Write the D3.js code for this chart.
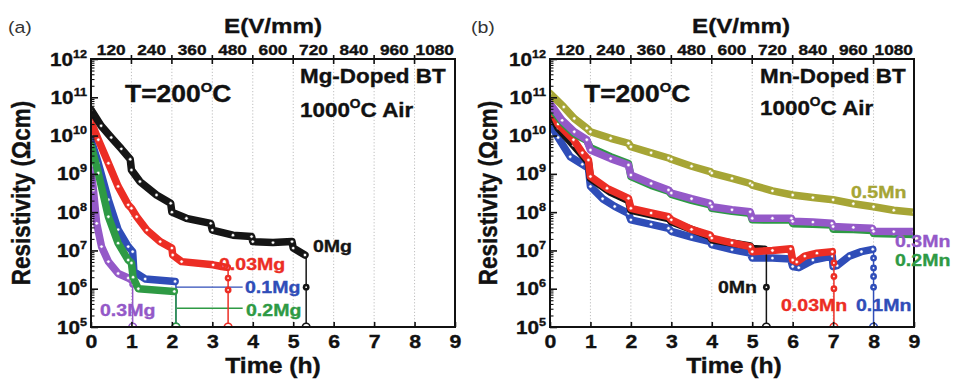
<!DOCTYPE html>
<html><head><meta charset="utf-8">
<script src="https://cdn.jsdelivr.net/npm/d3@7"></script>
<style>body{margin:0;background:#fff}svg{display:block}</style>
</head><body>
<svg id="c" width="954" height="381"></svg>
<script>
// ---------- tick labels / categories ----------
const hourTicks = [0,1,2,3,4,5,6,7,8,9];
const gridHours = [1,2,3,4,5,6,7,8];
const fieldTicks = [120,240,360,480,600,720,840,960,1080];
const decadeExps = [5,6,7,8,9,10,11,12];

// ---------- (a) Mg-doped BT : time (h) / resistivity (Ωcm) ----------
const mg0T  = [0,0.25,0.5,0.75,0.97,1.0,1.21,1.62,1.97,2.0,2.36,2.96,3.0,3.51,3.97,4.0,4.5,4.97,5.0,5.29];
const mg0V  = [4.7e10,1.8e10,8.9e9,4.5e9,2.4e9,1.26e9,6.3e8,2.8e8,1.7e8,1.0e8,6.9e7,5.1e7,3.4e7,2.5e7,2.3e7,1.7e7,1.6e7,1.7e7,1.15e7,7.6e6];
const mg003T = [0,0.18,0.43,0.67,0.92,1.0,1.13,1.38,1.71,2.0,2.02,2.24,3.02,3.23,3.37];
const mg003V = [2.3e10,7.8e9,1.9e9,4.7e8,1.55e8,1.26e8,7.6e7,3.4e7,1.7e7,1.15e7,7.6e6,5.1e6,4.2e6,3.8e6,3.6e6];
const mg01T = [0,0.18,0.43,0.67,0.92,1.03,1.06,1.34,2.08];
const mg01V = [7.8e9,1.9e9,2.1e8,3.5e7,1.26e7,9.3e6,2.8e6,1.8e6,1.55e6];
const mg02T = [0,0.18,0.43,0.67,0.92,1.0,1.04,1.17,2.06];
const mg02V = [5.6e9,1.05e9,7.6e7,1.55e7,5.6e6,4.7e6,2.0e6,1.0e6,8.5e5];
const mg03T = [0,0.06,0.14,0.26,0.43,0.67,0.92,1.0];
const mg03V = [1.26e9,3.8e8,5.1e7,1.26e7,5.1e6,2.5e6,1.9e6,1.7e6];
// breakdown (time, marker values along the drop)
const mgDropT = [5.32, 3.39, 2.1, 2.1, 1.03];
const mgDropV = [[1.1e6,1e5],[1.9e6,9.3e5,1e5],[1e5],[1e5],[1.3e6,1e5]];
const mgNames = ["0Mg","0.03Mg","0.1Mg","0.2Mg","0.3Mg"];
// leader lines for 0.1Mg / 0.2Mg labels [t0, t1, value]
const mgLeaders = [[2.1,3.75,1.1e6],[2.12,3.75,3.1e5]];

// ---------- (b) Mn-doped BT ----------
const mn0T  = [0,0.2,0.58,0.95,1.0,1.5,1.94,2.0,2.93,3.0,3.96,4.0,4.95,5.0,5.3];
const mn0V  = [3.98e10,1.58e10,5.6e9,2.0e9,7.6e8,3.3e8,2.0e8,1.12e8,6.8e7,5.6e7,2.3e7,1.9e7,1.3e7,1.12e7,1.07e7];
const mn003T = [0,0.2,0.58,0.8,0.95,1.0,1.41,1.94,2.0,2.5,2.93,3.0,3.5,3.96,4.0,4.5,4.95,5.0,5.5,5.95,6.0,6.1,6.3,6.6,6.98];
const mn003V = [5.6e10,2.0e10,7.8e9,3.55e9,2.3e9,8.5e8,4.2e8,2.3e8,1.26e8,9.5e7,7.6e7,6.3e7,3.55e7,2.5e7,2.1e7,1.58e7,1.26e7,9.3e6,1.0e7,1.1e7,5.6e6,5.0e6,7.1e6,8.5e6,9.3e6];
const mn01T = [0,0.2,0.5,0.8,0.95,1.0,1.3,1.6,1.94,2.0,2.5,2.93,3.0,3.5,3.96,4.0,4.5,4.95,5.0,5.5,5.95,6.0,6.15,6.5,6.98,7.0,7.1,7.4,7.7,7.98];
const mn01V = [2.1e10,8.9e9,2.8e9,1.78e9,1.41e9,4.7e8,2.24e8,1.41e8,9.3e7,6.3e7,4.8e7,3.8e7,3.16e7,2.24e7,1.7e7,1.41e7,1.05e7,8.5e6,6.3e6,6.3e6,6.0e6,3.8e6,3.55e6,5.6e6,7.1e6,3.8e6,4.0e6,7.1e6,9.3e6,1.07e7];
const mn02T = [0,0.3,0.6,0.91,1.0,1.5,1.94,2.0,2.5,2.93,3.0,3.5,3.96,4.0,4.5,4.95,5.0,5.5,5.97,6.0,6.5,6.97,7.0,7.5,7.97,8.0,8.5,9.0];
const mn02V = [5.6e10,2.24e10,1.12e10,7.4e9,4.8e9,2.8e9,1.86e9,8.5e8,5.0e8,3.55e8,2.9e8,2.04e8,1.55e8,1.26e8,1.05e8,9.3e7,6.3e7,6.2e7,6.2e7,5.0e7,4.8e7,4.6e7,3.6e7,3.5e7,3.3e7,2.75e7,2.7e7,2.6e7];
const mn03T = [0,0.3,0.6,0.91,1.0,1.5,1.94,2.0,2.5,2.93,3.0,3.5,3.96,4.0,4.5,4.95,5.0,5.5,5.97,6.0,6.5,6.97,7.0,7.5,7.97,8.0,8.5,9.0];
const mn03V = [6.9e10,2.5e10,1.26e10,7.8e9,4.2e9,2.5e9,1.7e9,9.3e8,5.6e8,3.8e8,3.16e8,2.24e8,1.7e8,1.38e8,1.15e8,1.02e8,6.9e7,6.9e7,6.9e7,5.75e7,5.5e7,5.1e7,4.2e7,4.0e7,3.8e7,3.16e7,3.1e7,3.1e7];
const mn05T = [0,0.34,0.6,0.91,1.0,1.5,1.94,2.0,2.5,2.93,3.0,3.5,3.96,4.0,4.5,4.95,5.0,5.5,6.0,6.5,7.0,7.5,8.0,8.5,9.0];
const mn05V = [1.26e11,5.6e10,2.8e10,1.55e10,1.26e10,8.5e9,6.3e9,5.1e9,3.55e9,2.6e9,2.4e9,1.58e9,1.15e9,1.05e9,7.6e8,5.6e8,5.1e8,3.6e8,2.8e8,2.4e8,2.1e8,1.66e8,1.38e8,1.12e8,1.0e8];
const mnDropT = [5.35, 7.02, 8.0, null, null, null];
const mnDropV = [[1.1e6,1e5],[4.7e6,2.1e6,1.0e6,1e5],[6.3e6,3.5e6,2.1e6,1.1e6,1e5],[],[],[]];
const mnNames = ["0Mn","0.03Mn","0.1Mn","0.2Mn","0.3Mn","0.5Mn"];

// ---------- drawing ----------
const FONT = "'Liberation Sans', Arial, Helvetica, sans-serif";
const SX = 1.15;
const C = {black:"#151515", red:"#ec2d24", blue:"#2f4db8", green:"#2e9a44", purple:"#9459c8", olive:"#a6a535"};
const svg = d3.select("#c");
const Y0 = 59, Y1 = 327;

function text(parent, x, y, parts, o) {
  o = o || {};
  const fill = o.fill || "#111";
  const t = parent.append("text")
    .attr("transform", `translate(${x},${y}) scale(${o.sx || SX},1)` + (o.rot ? ` rotate(${o.rot})` : ""))
    .attr("font-family", FONT).attr("font-size", o.size || 16)
    .attr("font-weight", o.weight || "bold").attr("fill", fill)
    .attr("text-anchor", o.anchor || "start");
  if ((o.weight || "bold") === "bold") t.attr("stroke", fill).attr("stroke-width", 0.35);
  let up = 0;
  parts.forEach(p => {
    const s = typeof p === "string" ? {t:p} : p;
    const ts = t.append("tspan").text(s.t);
    if (s.sup) { ts.attr("font-size", s.size).attr("dy", -s.raise); up = s.raise; }
    else if (up) { ts.attr("dy", up); up = 0; }
  });
  return t;
}

function panel(cfg) {
  const x = d3.scaleLinear().domain([0,9]).range([cfg.x0, cfg.x1]);
  const fx = d3.scaleLinear().domain([0,1080]).range([cfg.x0, cfg.x1]);
  const y = d3.scaleLog().domain([1e5,1e12]).range([Y1, Y0]);
  const g = svg.append("g");

  // grid
  g.selectAll(null).data(gridHours).join("line")
    .attr("x1", d => x(d)).attr("x2", d => x(d)).attr("y1", Y0).attr("y2", Y1)
    .attr("stroke", "#b8b8b8").attr("stroke-width", 0.9).attr("stroke-dasharray", "1.2,2");

  const clipId = "clip" + cfg.id;
  svg.append("clipPath").attr("id", clipId).append("rect")
    .attr("x", cfg.x0).attr("y", Y0).attr("width", cfg.x1 - cfg.x0).attr("height", Y1 - Y0);
  const pg = g.append("g").attr("clip-path", `url(#${clipId})`);
  const line = d3.line().x(d => x(d[0])).y(d => y(d[1]));

  // leader lines
  (cfg.leaders || []).forEach((L, i) => {
    pg.append("line").attr("x1", x(L[0])).attr("x2", x(L[1])).attr("y1", y(L[2])).attr("y2", y(L[2]))
      .attr("stroke", cfg.leaderColors[i]).attr("stroke-width", 1.4);
  });

  cfg.series.forEach(s => {
    const pts = s.t.map((t, i) => [t, s.v[i]]);
    const last = pts[pts.length - 1];
    if (s.dropT != null) {
      pg.append("line").attr("x1", x(last[0])).attr("y1", y(last[1]))
        .attr("x2", x(s.dropT)).attr("y2", y(last[1])).attr("stroke", s.color).attr("stroke-width", 2);
      pg.append("line").attr("x1", x(s.dropT)).attr("x2", x(s.dropT))
        .attr("y1", y(last[1])).attr("y2", y(1e5)).attr("stroke", s.color).attr("stroke-width", 1.5);
      s.dropV.forEach(v => {
        if (v <= 1e5) {
          pg.append("circle").attr("cx", x(s.dropT)).attr("cy", y(v)).attr("r", 3.8)
            .attr("fill", "#fff").attr("stroke", s.color).attr("stroke-width", 1.6);
        } else {
          pg.append("circle").attr("cx", x(s.dropT)).attr("cy", y(v)).attr("r", 3.4).attr("fill", s.color);
          pg.append("circle").attr("cx", x(s.dropT)).attr("cy", y(v)).attr("r", 0.9).attr("fill", "#fff");
        }
      });
    }
    pg.append("path").attr("d", line(pts)).attr("fill", "none").attr("stroke", s.color)
      .attr("stroke-width", 7.5).attr("stroke-linejoin", "round").attr("stroke-linecap", "round");
    pg.selectAll(null).data(pts).join("circle")
      .attr("cx", d => x(d[0])).attr("cy", d => y(d[1])).attr("r", 1.7)
      .attr("fill", "#fff").attr("stroke", s.color).attr("stroke-width", 0.6);
  });

  // frame
  g.append("rect").attr("x", cfg.x0).attr("y", Y0).attr("width", cfg.x1 - cfg.x0).attr("height", Y1 - Y0)
    .attr("fill", "none").attr("stroke", "#111").attr("stroke-width", 2);

  // bottom axis
  const bx = g.append("g").attr("transform", `translate(0,${Y1})`)
    .call(d3.axisBottom(x).tickValues(hourTicks).tickSize(-5).tickPadding(8).tickFormat(d3.format("d")));
  bx.select(".domain").remove();
  bx.selectAll(".tick line").attr("stroke", "#111").attr("stroke-width", 1.6);
  bx.selectAll(".tick text").attr("font-family", FONT).attr("font-size", 18.5).attr("font-weight", "bold")
    .attr("fill", "#111").attr("stroke", "#111").attr("stroke-width", 0.35).attr("transform", `scale(${SX},1)`);

  // top axis (field)
  g.selectAll(null).data(fieldTicks.slice(0, -1)).join("line")
    .attr("x1", d => fx(d)).attr("x2", d => fx(d)).attr("y1", Y0 - 4).attr("y2", Y0 + 5)
    .attr("stroke", "#111").attr("stroke-width", 1.6);
  fieldTicks.forEach(v => text(g, fx(v - 60), 55, [String(v)], {size: 15, anchor: "middle"}));

  // left axis
  const majors = decadeExps.map(e => Math.pow(10, e));
  const minors = [];
  decadeExps.slice(0, -1).forEach(e => { for (let k = 2; k <= 9; k++) minors.push(k * Math.pow(10, e)); });
  const ly = g.append("g").attr("transform", `translate(${cfg.x0},0)`)
    .call(d3.axisLeft(y).tickValues(majors).tickSize(-7).tickFormat(""));
  ly.select(".domain").remove();
  ly.selectAll(".tick line").attr("stroke", "#111").attr("stroke-width", 1.6);
  const lm = g.append("g").attr("transform", `translate(${cfg.x0},0)`)
    .call(d3.axisLeft(y).tickValues(minors).tickSize(-3.5).tickFormat(""));
  lm.select(".domain").remove();
  lm.selectAll(".tick line").attr("stroke", "#111").attr("stroke-width", 1.1);
  decadeExps.forEach(e => text(g, cfg.x0 - 4, y(Math.pow(10, e)) + 6.5,
    ["10", {t: String(e), sup: true, size: 11, raise: 8}], {size: 18, anchor: "end"}));

  // titles
  text(g, cfg.letterX, 33, [cfg.letter], {size: 17, weight: "normal", fill: "#333"});
  text(g, cfg.eX, 33, ["E(V/mm)"], {size: 21, anchor: "middle"});
  text(g, cfg.tX, 373, ["Time (h)"], {size: 21.5, anchor: "middle"});
  text(g, cfg.yLabX, (Y0 + Y1) / 2, ["Resistivity (Ωcm)"], {size: 22.5, anchor: "middle", rot: -90, sx: 1.12});
  text(g, cfg.x0 + 34, 102, ["T=200", {t: "O", sup: true, size: 13, raise: 10}, "C"], {size: 23});
  text(g, cfg.annX, 83, [cfg.material], {size: 19.5});
  text(g, cfg.annX, cfg.airY, ["1000", {t: "O", sup: true, size: 12, raise: 9}, "C Air"], {size: 19.5});

  // series labels
  cfg.labels.forEach(l => text(g, l.x, l.y, [l.t], {size: 17, fill: l.c}));
}

panel({
  id: "a", x0: 91, x1: 455, letter: "(a)", letterX: 8, eX: 273, tX: 273, yLabX: 30, annX: 300, airY: 117,
  material: "Mg-Doped BT",
  leaders: mgLeaders, leaderColors: [C.blue, C.green],
  series: [
    {t: mg03T, v: mg03V, color: C.purple, dropT: mgDropT[4], dropV: mgDropV[4]},
    {t: mg01T, v: mg01V, color: C.blue, dropT: mgDropT[2], dropV: mgDropV[2]},
    {t: mg02T, v: mg02V, color: C.green, dropT: mgDropT[3], dropV: mgDropV[3]},
    {t: mg003T, v: mg003V, color: C.red, dropT: mgDropT[1], dropV: mgDropV[1]},
    {t: mg0T, v: mg0V, color: C.black, dropT: mgDropT[0], dropV: mgDropV[0]}
  ],
  labels: [
    {t: mgNames[0], x: 313, y: 252, c: C.black},
    {t: mgNames[1], x: 219, y: 270, c: C.red},
    {t: mgNames[2], x: 245, y: 293, c: C.blue},
    {t: mgNames[3], x: 246, y: 316, c: C.green},
    {t: mgNames[4], x: 100, y: 316, c: C.purple}
  ]
});

panel({
  id: "b", x0: 550, x1: 914, letter: "(b)", letterX: 471, eX: 741, tX: 734, yLabX: 497, annX: 760, airY: 115,
  material: "Mn-Doped BT",
  series: [
    {t: mn01T, v: mn01V, color: C.blue, dropT: mnDropT[2], dropV: mnDropV[2]},
    {t: mn0T, v: mn0V, color: C.black, dropT: mnDropT[0], dropV: mnDropV[0]},
    {t: mn003T, v: mn003V, color: C.red, dropT: mnDropT[1], dropV: mnDropV[1]},
    {t: mn02T, v: mn02V, color: C.green, dropT: null},
    {t: mn03T, v: mn03V, color: C.purple, dropT: null},
    {t: mn05T, v: mn05V, color: C.olive, dropT: null}
  ],
  labels: [
    {t: mnNames[0], x: 718, y: 293, c: C.black},
    {t: mnNames[1], x: 781, y: 311, c: C.red},
    {t: mnNames[2], x: 856, y: 311, c: C.blue},
    {t: mnNames[3], x: 895, y: 266, c: C.green},
    {t: mnNames[4], x: 895, y: 247, c: C.purple},
    {t: mnNames[5], x: 851, y: 198, c: C.olive}
  ]
});
</script>
</body></html>
